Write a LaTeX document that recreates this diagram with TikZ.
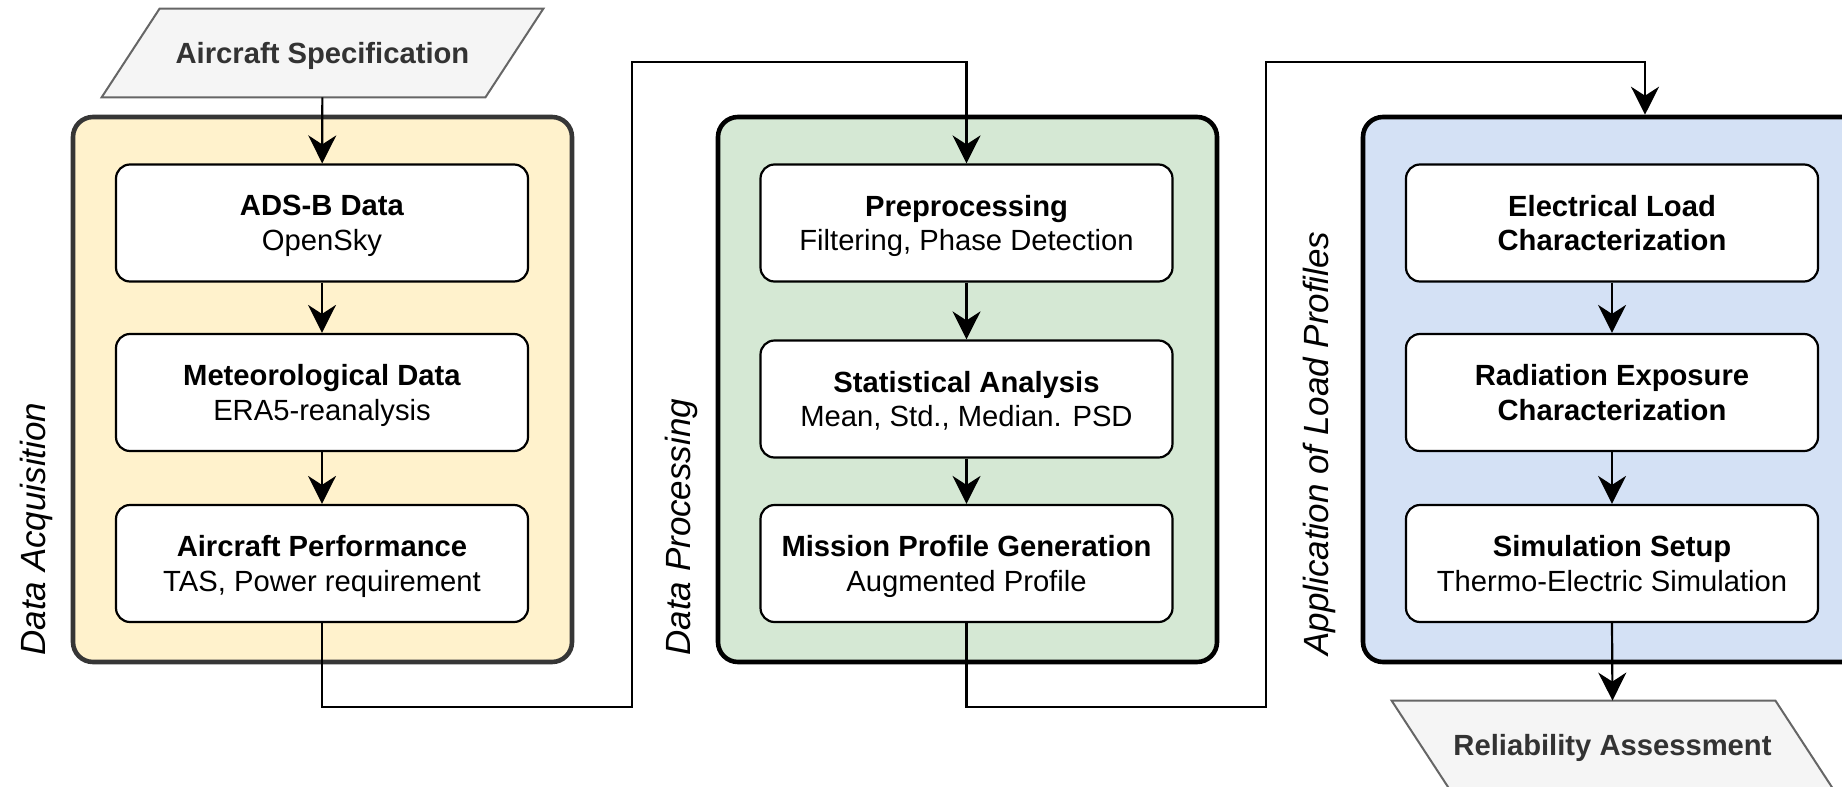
\documentclass[tikz,border=0pt]{standalone}
\usepackage{fontspec}
\setmainfont{Liberation Sans}
\usetikzlibrary{arrows.meta,backgrounds}

\definecolor{acqfill}{HTML}{FFF2CC}
\definecolor{acqline}{HTML}{363636}
\definecolor{procfill}{HTML}{D5E8D4}
\definecolor{appfill}{HTML}{D4E1F5}
\definecolor{iofill}{HTML}{F5F5F5}
\definecolor{ioline}{HTML}{666666}
\definecolor{iotext}{HTML}{333333}

\newcommand{\boxfont}{\fontsize{14.6}{17.2}\selectfont}
\newcommand{\lanefont}{\fontsize{17.5}{20}\selectfont\itshape}

\tikzset{
  container/.style={draw, line width=2.3pt, rounded corners=10pt,
    minimum width=249.5pt, minimum height=272.5pt, inner sep=0pt},
  stepbox/.style={draw, fill=white, line width=1.1pt, rounded corners=7pt,
    minimum width=206pt, minimum height=58.5pt, align=center,
    inner sep=0pt, text depth=0pt, font=\boxfont},
  iobox/.style={minimum width=220.5pt, minimum height=44pt, inner sep=0pt,
    text depth=0pt, text=iotext, font=\boxfont\bfseries},
  ioshape/.style={fill=iofill, draw=ioline, line width=1pt, line join=miter},
  lane/.style={rotate=90, anchor=base west, inner sep=0pt, font=\lanefont},
  link/.style={line width=1.1pt},
  flow/.style={link, -{Stealth[length=14pt,width=14pt,inset=4.5pt]}}
}

\begin{document}
\begin{tikzpicture}[x=0.5pt, y=-0.5pt]
  \useasboundingbox (0,0) rectangle (1842,787);
  \clip (0,0) rectangle (1842,787);

  % phase containers
  \node[container, fill=acqfill, draw=acqline] (acq) at (322.5,389.5) {};
  \node[container, fill=procfill] (proc) at (967.5,389.5) {};
  \node[container, fill=appfill, minimum width=282pt] (app) at (1645,389.5) {};

  % phase labels
  \node[lane] (acqlabel)  at (45,656)   {Data Acquisition};
  \node[lane] (proclabel) at (690,656)  {Data Processing};
  \node[lane] (applabel)  at (1328,656) {Application of Load Profiles};

  % input and output
  \node[iobox] (spec) at (322.5,53)   {Aircraft Specification};
  \node[iobox] (rel)  at (1612.5,745) {Reliability Assessment};
  \begin{scope}[on background layer]
    \draw[ioshape] (spec.south west) -- ([xshift=29pt]spec.north west)
      -- (spec.north east) -- ([xshift=-29pt]spec.south east) -- cycle;
    \draw[ioshape] (rel.north west) -- ([xshift=-29pt]rel.north east)
      -- (rel.south east) -- ([xshift=29pt]rel.south west) -- cycle;
  \end{scope}

  % data acquisition steps
  \node[stepbox] (adsb) at (322,223)   {\textbf{ADS-B Data}\\OpenSky};
  \node[stepbox] (met)  at (322,392.5) {\textbf{Meteorological Data}\\ERA5-reanalysis};
  \node[stepbox] (perf) at (322,563.5) {\textbf{Aircraft Performance}\\TAS, Power requirement};

  % data processing steps
  \node[stepbox] (pre)     at (966.5,223)   {\textbf{Preprocessing}\\Filtering, Phase Detection};
  \node[stepbox] (stats)   at (966.5,399)   {\textbf{Statistical Analysis}\\Mean, Std., Median. PSD};
  \node[stepbox] (mission) at (966.5,563.5) {\textbf{Mission Profile Generation}\\Augmented Profile};

  % load profile application steps
  \node[stepbox, font=\boxfont\bfseries] (elec) at (1612,223)   {Electrical Load\\Characterization};
  \node[stepbox, font=\boxfont\bfseries] (rad)  at (1612,392.5) {Radiation Exposure\\Characterization};
  \node[stepbox] (sim) at (1612,563.5) {\textbf{Simulation Setup}\\Thermo-Electric Simulation};

  % routing points between the phases
  \coordinate (j1) at (632,707);
  \coordinate (j2) at (632,62);
  \coordinate (j3) at (1266,707);
  \coordinate (j4) at (1266,62);

  % connectors
  \draw[flow] (spec) -- (adsb);
  \draw[flow] (adsb) -- (met);
  \draw[flow] (met) -- (perf);
  \draw[flow] (perf.south) |- (j1) -- (j2) -| (pre.north);
  \draw[flow] (pre) -- (stats);
  \draw[flow] (stats) -- (mission);
  \draw[flow] (mission.south) |- (j3) -- (j4) -| (app.north);
  \draw[flow] (elec) -- (rad);
  \draw[flow] (rad) -- (sim);
  \draw[flow] (sim.south) -- (rel.north);
\end{tikzpicture}
\end{document}
